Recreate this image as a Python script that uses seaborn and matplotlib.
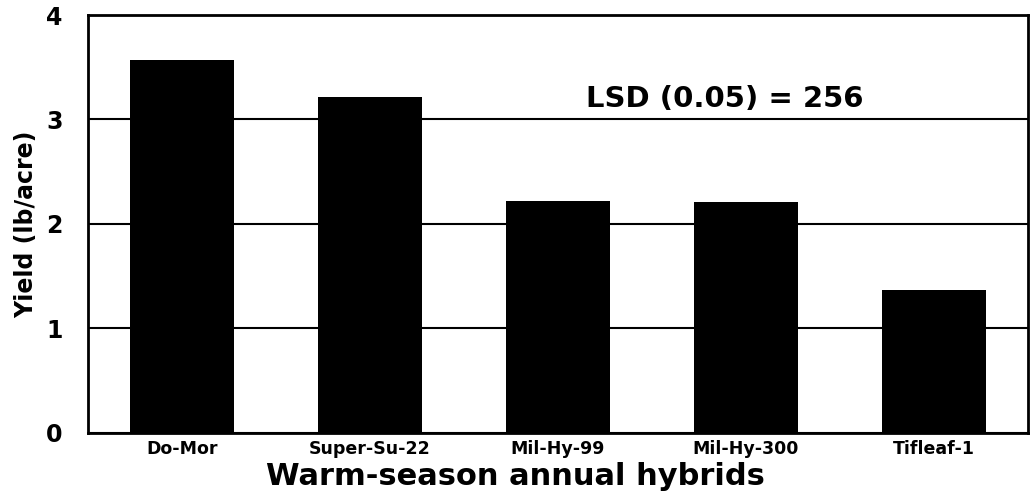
import matplotlib
matplotlib.use("Agg")
import matplotlib.pyplot as plt
import seaborn as sns
import pandas as pd

# Data
hybrids = ["Do-Mor", "Super-Su-22", "Mil-Hy-99", "Mil-Hy-300", "Tifleaf-1"]
yields = [3.57, 3.22, 2.22, 2.21, 1.37]

df = pd.DataFrame({"Hybrid": hybrids, "Yield": yields})

sns.set_style("white")
plt.rcParams["font.family"] = ["DejaVu Sans"]
plt.rcParams["font.weight"] = "bold"
plt.rcParams["text.color"] = "black"
plt.rcParams["axes.labelcolor"] = "black"
plt.rcParams["xtick.color"] = "black"
plt.rcParams["ytick.color"] = "black"

fig, ax = plt.subplots(figsize=(10.33, 5.03), dpi=100)
ax.set_axisbelow(True)
ax.yaxis.grid(True, color="black", linewidth=1.5)
sns.barplot(data=df, x="Hybrid", y="Yield", color="black", width=0.55,
            saturation=1, edgecolor="black", linewidth=0, ax=ax, zorder=3)

ax.set_ylim(0, 4)
ax.set_xlim(-0.5, 4.5)
ax.set_yticks([0, 1, 2, 3, 4])
ax.tick_params(axis="y", labelsize=17, length=0, pad=18)
ax.tick_params(axis="x", labelsize=12.5, length=0, pad=5)
for lbl in ax.get_xticklabels() + ax.get_yticklabels():
    lbl.set_fontweight("heavy")

for s in ax.spines.values():
    s.set_color("black")
    s.set_linewidth(2)

ax.set_xlabel("Warm-season annual hybrids", fontsize=22, fontweight="heavy")
ax.xaxis.set_label_coords(0.455, -0.07)
ax.set_ylabel("Yield (lb/acre)", fontsize=17, fontweight="heavy", labelpad=6)
ax.text(2.89, 3.2, "LSD (0.05) = 256", fontsize=21, fontweight="heavy",
        ha="center", va="center")

plt.subplots_adjust(left=0.085, right=0.995, top=0.97, bottom=0.14)
plt.savefig("out.png", dpi=100)
